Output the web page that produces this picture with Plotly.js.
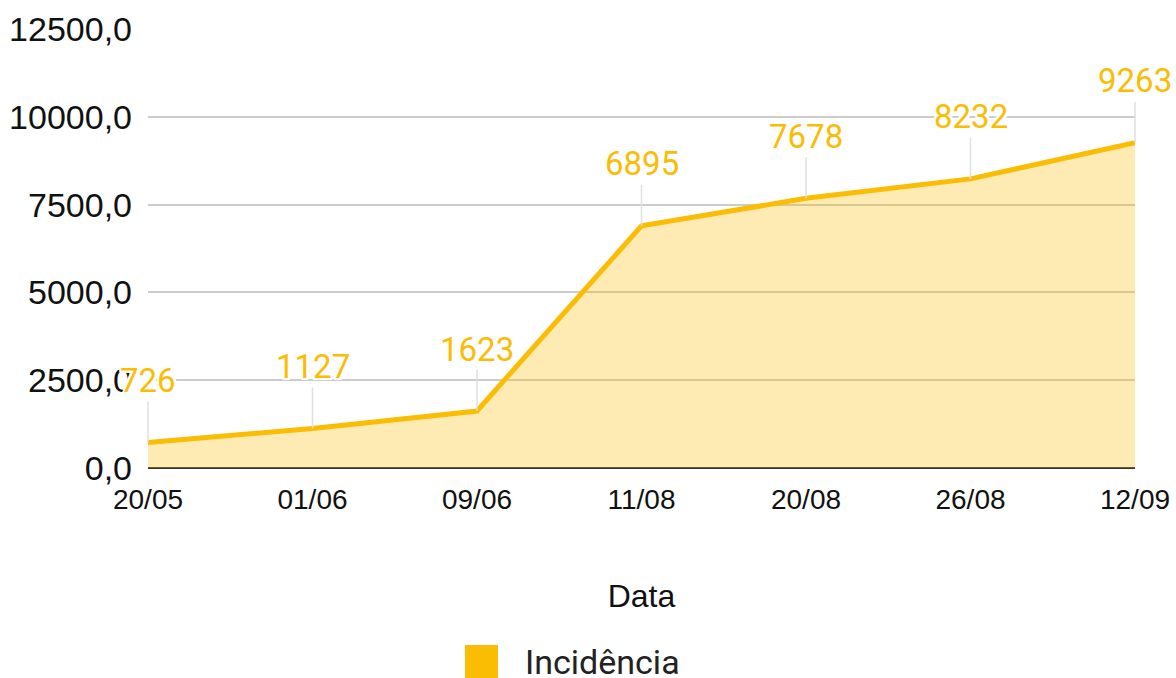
<!DOCTYPE html>
<html><head><meta charset="utf-8">
<script src="https://cdn.plot.ly/plotly-3.0.1.min.js"></script>
<style>body{margin:0;background:#fff}#c{width:1176px;height:678px}</style>
</head><body><div id="c"></div>
<script>
const categories = ["20/05","01/06","09/06","11/08","20/08","26/08","12/09"];
const incidencia = [726,1127,1623,6895,7678,8232,9263];
const seriesName = "Incidência";
const xTitle = "Data";
const yTicks = [0,2500,5000,7500,10000,12500];

const gold = "#FBBC04";
const halo = "2px 0 0 #fff,-2px 0 0 #fff,0 2px 0 #fff,0 -2px 0 #fff,2px 2px 0 #fff,-2px -2px 0 #fff,2px -2px 0 #fff,-2px 2px 0 #fff";

const trace = {
  x: categories, y: incidencia, type: "scatter", mode: "lines",
  line: {color: gold, width: 5},
  fill: "tozeroy", fillcolor: "rgba(251,188,4,0.3)",
  name: seriesName, showlegend: false, hoverinfo: "skip"
};

const annotations = categories.map((c,i)=>({
  x: c, y: incidencia[i], xref: "x", yref: "y",
  text: String(incidencia[i]), showarrow: true, arrowhead: 0, arrowwidth: 1.5,
  arrowcolor: "#e0e0e0", ax: 0, ay: -62, standoff: 0,
  font: {family: "Roboto", size: 33, color: gold, shadow: halo}
}));
annotations.push({
  xref: "paper", yref: "paper", x: 0.3799, y: -0.4419, xanchor: "left", yanchor: "middle",
  text: seriesName, showarrow: false,
  font: {family: "Roboto", size: 34, color: "#222"}
});

const layout = {
  width: 1176, height: 678,
  margin: {l: 148, r: 41, t: 29, b: 210},
  paper_bgcolor: "#fff", plot_bgcolor: "#fff",
  separators: ",.",
  showlegend: false,
  xaxis: {
    type: "category", range: [0, categories.length - 1],
    showgrid: false, zeroline: false, showline: false,
    ticks: "", ticklabelstandoff: 12,
    tickfont: {family: "Liberation Sans, Arial", size: 28, color: "#111"},
    title: {text: xTitle, font: {family: "Liberation Sans, Arial", size: 32, color: "#111"}, standoff: 70},
    fixedrange: true
  },
  yaxis: {
    range: [0, 12500], tickvals: yTicks, tickformat: ".1f",
    showgrid: true, gridcolor: "#cccccc", gridwidth: 2,
    zeroline: true, zerolinecolor: "#333333", zerolinewidth: 2,
    showline: false, ticks: "", ticklabelstandoff: 15,
    tickfont: {family: "Liberation Sans, Arial", size: 34, color: "#111"},
    fixedrange: true
  },
  shapes: [{
    type: "rect", xref: "paper", yref: "paper",
    x0: 0.3212, x1: 0.3546, y0: -0.4032, y1: -0.4784,
    fillcolor: gold, line: {width: 0}
  }],
  annotations: annotations
};
Plotly.newPlot("c", [trace], layout, {displayModeBar: false, staticPlot: true});
</script></body></html>
